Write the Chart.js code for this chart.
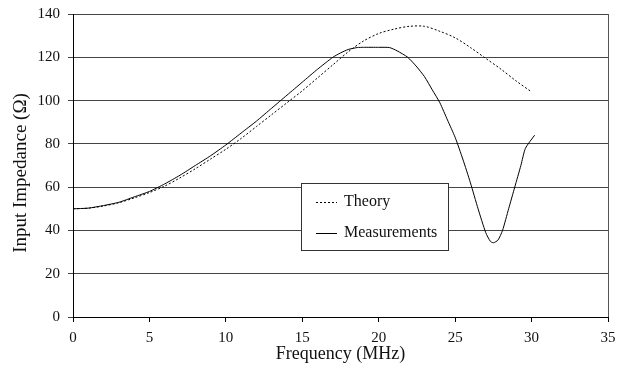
<!DOCTYPE html>
<html>
<head>
<meta charset="utf-8">
<script src="https://cdn.jsdelivr.net/npm/chart.js@4"></script>
<style>
  html, body { margin: 0; padding: 0; background: #fff; }
  #wrap { width: 625px; height: 373px; }
</style>
</head>
<body>
<div id="wrap"><canvas id="chart" width="625" height="373"></canvas></div>
<script>
// Data (frequency in MHz, impedance in ohms)
const theoryFreq = [0, 1, 2, 3, 4, 5, 6, 7, 8, 9, 10, 11, 12, 13, 14, 15, 16, 17, 18, 19,
                    20, 21, 22, 23, 24, 25, 26, 27, 28, 29, 30];
const theoryZ    = [50, 50.3, 51.3, 52.8, 55, 57.5, 60.5, 64.3, 68.5, 73, 77.5, 82.5, 88, 93.5,
                    99, 104.5, 110.5, 116.5, 122.5, 127.5, 131, 133, 134.3, 134.3, 132, 129,
                    124.5, 119.5, 114.5, 109, 104];

const measFreq = [0, 1, 2, 3, 4, 5, 6, 7, 8, 9, 10, 11, 12, 13, 14, 15, 16, 17, 17.5, 18,
                  18.6, 19, 20, 20.7, 21.2, 21.9, 22.5, 23, 23.5, 24, 24.5, 25, 25.5, 26,
                  26.5, 27, 27.3, 27.5, 27.8, 28.1, 28.5, 28.9, 29.3, 29.6, 30.2];
const measZ    = [50, 50.3, 51.5, 53, 55.5, 58, 61.5, 65.5, 70, 74.5, 79.5, 85, 90.5, 96.5,
                  102.5, 108.5, 114.5, 120, 122, 123.6, 124.5, 124.6, 124.6, 124.5, 123, 120,
                  115.5, 111, 105, 99, 91, 83, 73, 62, 50, 39, 35, 34.3, 35.5, 40, 50, 60,
                  70, 78, 84];

const xTicks = [0, 5, 10, 15, 20, 25, 30, 35];
const yTicks = [0, 20, 40, 60, 80, 100, 120, 140];

const yTitle = 'Input Impedance (\u03A9)';

const FONT = 'Liberation Serif, Times New Roman, serif';

const toPoints = (xs, ys) => xs.map((x, i) => ({ x, y: ys[i] }));

// right border of plot area, y title and boxed legend inside the plot
const frameAndLegend = {
    id: 'frameAndLegend',
    afterDraw(chart) {
        const { ctx, chartArea: a } = chart;
        ctx.save();
        ctx.strokeStyle = '#555';
        ctx.lineWidth = 1;
        ctx.beginPath();
        ctx.moveTo(Math.round(a.right) + 0.5, a.top);
        ctx.lineTo(Math.round(a.right) + 0.5, a.bottom);
        ctx.stroke();

        // y axis title (sits a little below the plot centre in the original)
        ctx.save();
        ctx.translate(21, 173);
        ctx.rotate(-Math.PI / 2);
        ctx.font = '19px ' + FONT;
        ctx.fillStyle = '#111';
        ctx.textAlign = 'center';
        ctx.textBaseline = 'middle';
        ctx.fillText(yTitle, 0, 0);
        ctx.restore();

        // legend box
        const bx = 301, by = 183, bw = 147, bh = 67;
        ctx.fillStyle = '#fff';
        ctx.fillRect(bx, by, bw, bh);
        ctx.strokeStyle = '#333';
        ctx.strokeRect(bx + 0.5, by + 0.5, bw, bh);

        ctx.font = '16px ' + FONT;
        ctx.fillStyle = '#111';
        ctx.textBaseline = 'middle';
        const rows = [202, 233];
        chart.data.datasets.forEach((ds, i) => {
            const y = rows[i] + 0.5;
            ctx.strokeStyle = '#000';
            ctx.setLineDash(ds.borderDash || []);
            ctx.beginPath();
            ctx.moveTo(316, y);
            ctx.lineTo(337, y);
            ctx.stroke();
            ctx.setLineDash([]);
            ctx.fillText(ds.label, 344, rows[i]);
        });
        ctx.restore();
    }
};

new Chart(document.getElementById('chart'), {
    type: 'line',
    data: {
        datasets: [
            {
                label: 'Theory',
                data: toPoints(theoryFreq, theoryZ),
                borderColor: '#000',
                borderWidth: 1,
                borderDash: [2, 2],
                pointRadius: 0,
                tension: 0.3,
            },
            {
                label: 'Measurements',
                data: toPoints(measFreq, measZ),
                borderColor: '#000',
                borderWidth: 1,
                pointRadius: 0,
                tension: 0.2,
            },
        ],
    },
    options: {
        responsive: false,
        animation: false,
        layout: { padding: { left: 0, right: 17, top: 14, bottom: 0 } },
        plugins: {
            legend: { display: false },
            tooltip: { enabled: false },
        },
        scales: {
            x: {
                type: 'linear',
                min: 0,
                max: 35,
                afterBuildTicks: axis => { axis.ticks = xTicks.map(v => ({ value: v })); },
                afterFit: axis => { axis.height = 56; },
                grid: {
                    drawOnChartArea: false,
                    drawTicks: true,
                    tickLength: 5,
                    color: '#000',
                },
                border: { color: '#000' },
                ticks: {
                    color: '#111',
                    font: { family: FONT, size: 15 },
                    padding: 7,
                    maxRotation: 0,
                },
                title: {
                    display: true,
                    text: 'Frequency (MHz)',
                    color: '#111',
                    font: { family: FONT, size: 18 },
                    padding: { top: 0, bottom: 8 },
                },
            },
            y: {
                min: 0,
                max: 140,
                afterBuildTicks: axis => { axis.ticks = yTicks.map(v => ({ value: v })); },
                afterFit: axis => {
                    axis.width = 73;
                    axis.paddingTop = 0;
                    axis.paddingBottom = 0;
                },
                grid: {
                    color: '#444',
                    drawTicks: true,
                    tickLength: 5,
                },
                border: { color: '#000' },
                ticks: {
                    color: '#111',
                    font: { family: FONT, size: 15 },
                    padding: 8,
                },
            },
        },
    },
    plugins: [frameAndLegend],
});
</script>
</body>
</html>
